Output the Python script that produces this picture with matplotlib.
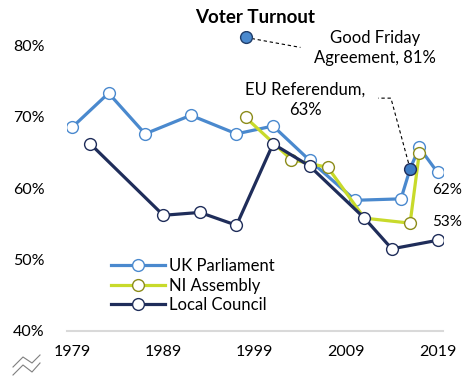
import matplotlib
matplotlib.use("Agg")
import matplotlib.pyplot as plt
from matplotlib.lines import Line2D

plt.rcParams['font.family'] = ['Lato', 'DejaVu Sans']

# Data
uk_years = [1979, 1983, 1987, 1992, 1997, 2001, 2005, 2010, 2015, 2016, 2017, 2019]
uk_vals = [68.5, 73.3, 67.6, 70.2, 67.6, 68.7, 63.9, 58.3, 58.5, 62.7, 65.7, 62.2]
ni_years = [1998, 2003, 2007, 2011, 2016, 2017]
ni_vals = [69.9, 64.0, 62.9, 55.8, 55.1, 64.9]
lc_years = [1981, 1989, 1993, 1997, 2001, 2005, 2011, 2014, 2019]
lc_vals = [66.2, 56.2, 56.6, 54.8, 66.2, 63.1, 55.8, 51.5, 52.7]
gfa_year, gfa_val = 1998, 81.1
eu_year, eu_val = 2016, 62.7

x_ticks = [1979, 1989, 1999, 2009, 2019]
y_ticks = [40, 50, 60, 70, 80]

c_uk = '#4A89CE'
c_ni = '#C8DA2B'
c_ni_edge = '#8C8C1A'
c_lc = '#1F2D5A'

W, H = 464, 378
fig = plt.figure(figsize=(W / 100, H / 100), dpi=100)
ax = fig.add_axes([67 / W, (H - 331) / H, (443 - 67) / W, 300 / H])
ax.set_xlim(1978.45, 2019.6)
ax.set_ylim(40, 82)

ms = 8.5
ax.plot(uk_years, uk_vals, color=c_uk, lw=2.3, marker='o', ms=ms,
        mfc='white', mec=c_uk, mew=1.0, zorder=3, label='UK Parliament',
        markevery=[i for i, y in enumerate(uk_years) if y != eu_year])
ax.plot(ni_years, ni_vals, color=c_ni, lw=2.3, marker='o', ms=ms,
        mfc='white', mec=c_ni_edge, mew=1.0, zorder=4, label='NI Assembly',
        markevery=[i for i, y in enumerate(ni_years) if y != 2011])
ax.plot(lc_years, lc_vals, color=c_lc, lw=2.3, marker='o', ms=ms,
        mfc='white', mec=c_lc, mew=1.0, zorder=5, label='Local Council')

ax.plot([gfa_year], [gfa_val], marker='o', ms=ms, mfc=c_uk, mec='#1F3D6A',
        mew=1.0, zorder=6, ls='none')
ax.plot([eu_year], [eu_val], marker='o', ms=ms, mfc='#3D7CC4', mec=c_lc,
        mew=1.0, zorder=6, ls='none')

# leader lines
ax.plot([gfa_year, 2004.0], [gfa_val, 79.7], color='black', lw=0.8,
        ls=(0, (3, 2.5)), zorder=5.5)
ax.plot([eu_year, 2013.9, 2012.5], [eu_val, 72.6, 72.6], color='black', lw=0.8,
        ls=(0, (3, 2.5)), zorder=5.5)

fs = 12
ax.text(2012.2, 79.6, 'Good Friday\nAgreement, 81%', ha='center', va='center',
        fontsize=fs, linespacing=1.3)
ax.text(2004.5, 72.4, 'EU Referendum,\n63%', ha='center', va='center',
        fontsize=fs, linespacing=1.3)
ax.text(2018.4, 59.7, '62%', ha='left', va='center', fontsize=11)
ax.text(2018.4, 55.2, '53%', ha='left', va='center', fontsize=11)

ax.set_title('Voter Turnout', fontsize=13.5, fontweight='bold', pad=6)

ax.set_xticks(x_ticks)
ax.set_xticklabels([str(x) for x in x_ticks])
ax.set_yticks(y_ticks)
ax.set_yticklabels([f'{y}%' for y in y_ticks])
ax.tick_params(axis='both', length=0, labelsize=11.5)
ax.tick_params(axis='x', pad=10)
ax.tick_params(axis='y', pad=16)
for s in ['top', 'right', 'left']:
    ax.spines[s].set_visible(False)
ax.spines['bottom'].set_color('#D9D9D9')
ax.spines['bottom'].set_linewidth(1.5)

leg = ax.legend(loc='upper left', bbox_to_anchor=(0.1, 0.265), frameon=False,
                fontsize=fs, handlelength=3.2, handletextpad=0.25,
                labelspacing=0.2, borderaxespad=0)

# axis break symbol
zx = [13, 23, 32, 40]
z1 = [367, 357, 363, 355]
z2 = [375, 365, 372, 363]
fig.add_artist(Line2D([x / W for x in zx], [1 - y / H for y in z1],
                      color='#7F7F7F', lw=0.8))
fig.add_artist(Line2D([x / W for x in zx], [1 - y / H for y in z2],
                      color='#7F7F7F', lw=0.8))

fig.savefig('out.png', dpi=100)
